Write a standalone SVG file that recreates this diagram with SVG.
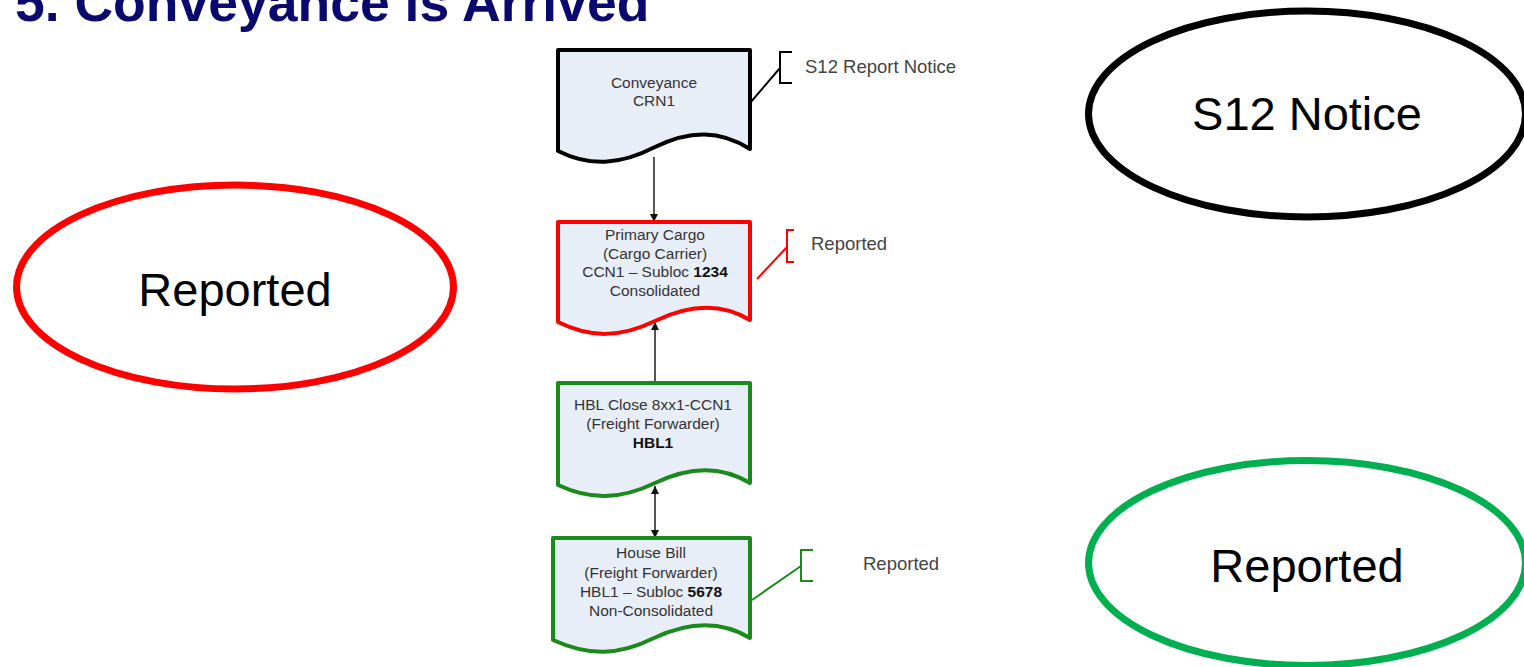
<svg xmlns="http://www.w3.org/2000/svg" width="1524" height="667" viewBox="0 0 1524 667">
<defs>
<style>
.doc{fill:#e8eef8;stroke-width:4;stroke-linejoin:round}
.t{font-family:"Liberation Sans",Arial,sans-serif;font-size:15.5px;fill:#333;text-anchor:middle}
.b{font-weight:bold;fill:#111}
.lbl{font-family:"Liberation Sans",Arial,sans-serif;font-size:18.5px;fill:#444}
.big{font-family:"Liberation Sans",Arial,sans-serif;font-size:47px;fill:#000;text-anchor:middle}
.conn{stroke:#555;stroke-width:2;fill:none}
.br{fill:none;stroke-width:2}
</style>
<marker id="ah" viewBox="0 0 10 10" refX="10" refY="5" markerWidth="8" markerHeight="8" orient="auto-start-reverse" markerUnits="userSpaceOnUse">
<path d="M0,0 L10,5 L0,10 Z" fill="#111"/>
</marker>
</defs>
<rect width="1524" height="667" fill="#fff"/>
<text x="15" y="21" font-family="'Liberation Sans',Arial,sans-serif" font-size="53.5" font-weight="bold" fill="#0a0a6e">5. Conveyance is Arrived</text>

<g id="connectors">
<line class="conn" x1="654" y1="157" x2="654" y2="222" marker-end="url(#ah)"/>
<line class="conn" x1="655" y1="382" x2="655" y2="322" marker-end="url(#ah)"/>
<line class="conn" x1="655" y1="486" x2="655" y2="538" marker-start="url(#ah)" marker-end="url(#ah)"/>
</g>

<g id="node-conveyance">
<path class="doc" stroke="#000" d="M558,50 H750 V149 C720,130 690,130 655,147 C620,165 590,167 558,151 Z"/>
<text class="t" x="654" y="88">Conveyance</text>
<text class="t" x="654" y="106">CRN1</text>
</g>
<g id="note-s12">
<path class="br" stroke="#000" d="M792,52 H780 V83 H792"/>
<line class="br" stroke="#000" x1="750" y1="103" x2="780" y2="68"/>
<text class="lbl" x="805" y="73">S12 Report Notice</text>
</g>

<g id="node-primary">
<path class="doc" stroke="#ff0000" d="M558,222 H750 V320 C722,303 690,304 655,321 C620,338 590,338 558,322 Z"/>
<text class="t" x="655" y="240">Primary Cargo</text>
<text class="t" x="655" y="259">(Cargo Carrier)</text>
<text class="t" x="655" y="277">CCN1 – Subloc <tspan class="b">1234</tspan></text>
<text class="t" x="655" y="296">Consolidated</text>
</g>
<g id="note-primary">
<path class="br" stroke="#ff0000" d="M794,230 H787 V262 H794"/>
<line class="br" stroke="#ff0000" x1="757" y1="279" x2="787" y2="247"/>
<text class="lbl" x="811" y="250">Reported</text>
</g>

<g id="node-hbl-close">
<path class="doc" stroke="#1a8a1a" d="M558,383 H750 V483 C722,466 690,466 655,483 C620,500 590,500 558,485 Z"/>
<text class="t" x="653" y="410">HBL Close 8xx1-CCN1</text>
<text class="t" x="653" y="429">(Freight Forwarder)</text>
<text class="t b" x="653" y="448">HBL1</text>
</g>

<g id="node-house-bill">
<path class="doc" stroke="#1a8a1a" d="M553,538 H750 V638 C722,621 690,621 654,638 C618,656 588,656 553,640 Z"/>
<text class="t" x="651" y="558">House Bill</text>
<text class="t" x="651" y="578">(Freight Forwarder)</text>
<text class="t" x="651" y="597">HBL1 – Subloc <tspan class="b">5678</tspan></text>
<text class="t" x="651" y="616">Non-Consolidated</text>
</g>
<g id="note-house">
<path class="br" stroke="#1a8a1a" d="M813,550 H801 V581 H813"/>
<line class="br" stroke="#1a8a1a" x1="752" y1="600" x2="801" y2="566"/>
<text class="lbl" x="863" y="570">Reported</text>
</g>

<g id="ellipse-red">
<ellipse cx="235" cy="287" rx="218.5" ry="102" fill="none" stroke="#ff0000" stroke-width="7"/>
<text class="big" x="235" y="306">Reported</text>
</g>
<g id="ellipse-black">
<ellipse cx="1307" cy="114" rx="218.5" ry="103" fill="none" stroke="#000" stroke-width="7"/>
<text class="big" x="1307" y="130">S12 Notice</text>
</g>
<g id="ellipse-green">
<ellipse cx="1307" cy="563" rx="218.5" ry="102.5" fill="none" stroke="#00b050" stroke-width="7"/>
<text class="big" x="1307" y="582">Reported</text>
</g>
</svg>
